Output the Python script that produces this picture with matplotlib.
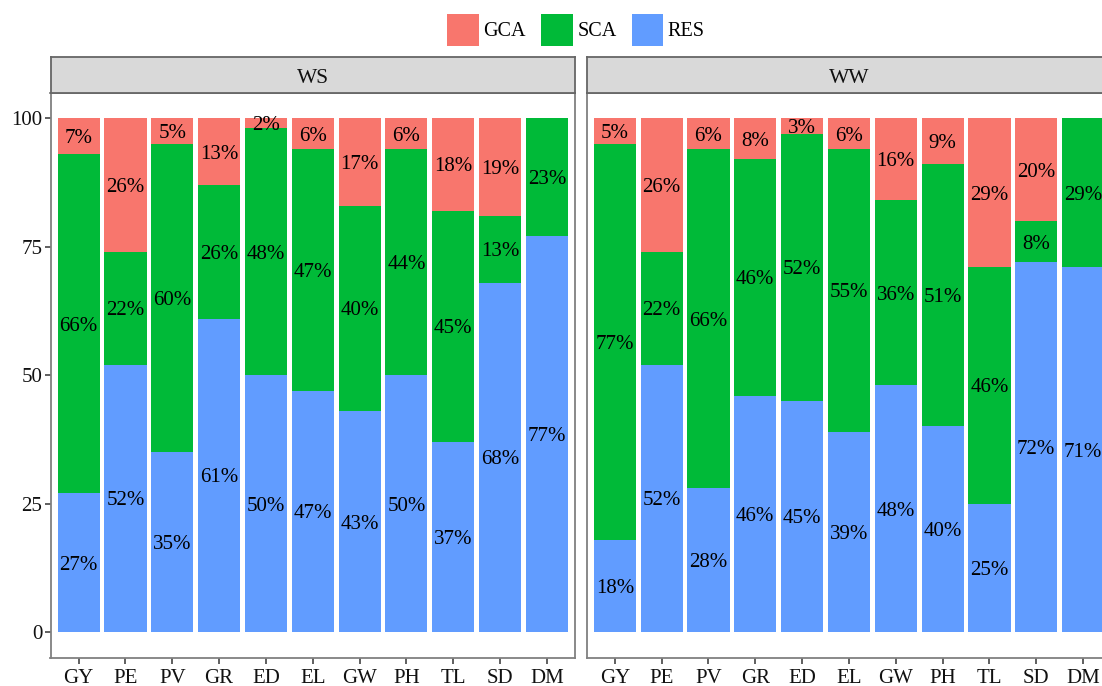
import numpy as np
import matplotlib
matplotlib.use('Agg')
import matplotlib.pyplot as plt
from matplotlib.patches import Patch

# traits and variance shares (%) per environment
traits = ['GY', 'PE', 'PV', 'GR', 'ED', 'EL', 'GW', 'PH', 'TL', 'SD', 'DM']

ws_res = [27, 52, 35, 61, 50, 47, 43, 50, 37, 68, 77]
ws_sca = [66, 22, 60, 26, 48, 47, 40, 44, 45, 13, 23]
ws_gca = [7, 26, 5, 13, 2, 6, 17, 6, 18, 19, 0]

ww_res = [18, 52, 28, 46, 45, 39, 48, 40, 25, 72, 71]
ww_sca = [77, 22, 66, 46, 52, 55, 36, 51, 46, 8, 29]
ww_gca = [5, 26, 6, 8, 3, 6, 16, 9, 29, 20, 0]

yticks = [0, 25, 50, 75, 100]

plt.rcParams['font.family'] = ['Liberation Serif', 'DejaVu Serif']

colors = {'GCA': '#F8766D', 'SCA': '#00BA38', 'RES': '#619CFF'}
border = '#808080'

W, H = 1102, 686
fig = plt.figure(figsize=(W / 100, H / 100), dpi=100)

panel_w = 524.5
panel_bottom = H - 657.7
panel_h = 657.7 - 92.5
strip_h = 92.5 - 57.3


def draw_panel(left, name, res, sca, gca, show_y):
    ax = fig.add_axes([left / W, panel_bottom / H, panel_w / W, panel_h / H])
    x = np.arange(len(traits))
    bottom = np.zeros(len(traits))
    for vals, key in [(res, 'RES'), (sca, 'SCA'), (gca, 'GCA')]:
        vals = np.array(vals, dtype=float)
        ax.bar(x, vals, 0.9, bottom=bottom, color=colors[key], linewidth=0)
        for xi, b, v in zip(x, bottom, vals):
            if v > 0:
                ax.text(xi, b + v / 2, f'{int(v)}%', ha='center',
                        va='center_baseline', fontsize=15, color='black')
        bottom += vals
    ax.set_xlim(-0.6, len(traits) - 0.4)
    ax.set_ylim(-5, 105)
    ax.set_xticks(x)
    ax.set_xticklabels(traits)
    ax.set_yticks(yticks)
    ax.tick_params(axis='both', length=4, width=1.2, color='#444444',
                   labelsize=15, labelcolor='#111111')
    ax.tick_params(axis='x', pad=4)
    ax.tick_params(axis='y', pad=2)
    if not show_y:
        ax.tick_params(axis='y', left=False, labelleft=False)
    for sp in ax.spines.values():
        sp.set_color(border)
        sp.set_linewidth(1.3)

    # facet strip
    st = fig.add_axes([left / W, (H - 92.5) / H, panel_w / W, strip_h / H])
    st.set_facecolor('#D9D9D9')
    st.set_xticks([])
    st.set_yticks([])
    for sp in st.spines.values():
        sp.set_color('#666666')
        sp.set_linewidth(1.3)
    st.text(0.5, 0.47, name, ha='center', va='center_baseline', fontsize=15.5,
            color='#111111', transform=st.transAxes)
    return ax


draw_panel(50.5, 'WS', ws_res, ws_sca, ws_gca, True)
draw_panel(586.7, 'WW', ww_res, ww_sca, ww_gca, False)

handles = [Patch(facecolor=colors[k], edgecolor='none', label=k)
           for k in ['GCA', 'SCA', 'RES']]
fig.legend(handles=handles, loc='center', bbox_to_anchor=(576 / W, 1 - 30 / H),
           ncol=3, frameon=False, fontsize=14.5, handlelength=1.58, handleheight=2.05,
           handletextpad=0.22, columnspacing=0.75, borderaxespad=0, borderpad=0)

fig.savefig('out.png', dpi=100)
